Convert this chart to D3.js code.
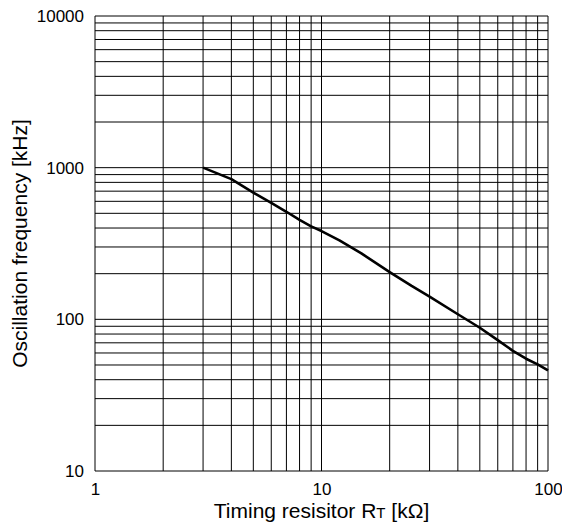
<!DOCTYPE html>
<html>
<head>
<meta charset="utf-8">
<script src="https://cdn.jsdelivr.net/npm/d3@7"></script>
<style>
  html, body { margin: 0; padding: 0; background: #fff; }
  svg { display: block; font-family: "Liberation Sans", Arial, sans-serif; }
</style>
</head>
<body>
<svg id="chart" width="562" height="528"></svg>
<script>
// Timing resistor RT [kΩ] vs oscillation frequency [kHz]
const resistance = [3, 4, 5, 6, 7, 8, 9, 10, 12, 15, 20, 25, 30, 40, 50, 60, 70, 80, 90, 100];
const frequency  = [1000, 840, 685, 585, 512, 452, 410, 382, 332, 272, 205, 166, 141, 108, 88, 73, 62, 55, 50.5, 46];

const xTickLabels = [1, 10, 100];
const yTickLabels = [10, 100, 1000, 10000];
const xGridValues = [1, 2, 3, 4, 5, 6, 7, 8, 9, 10, 20, 30, 40, 50, 60, 70, 80, 90, 100];
const yGridValues = [10, 20, 30, 40, 50, 60, 70, 80, 90, 100,
                     200, 300, 400, 500, 600, 700, 800, 900, 1000,
                     2000, 3000, 4000, 5000, 6000, 7000, 8000, 9000, 10000];

const margin = { left: 95, right: 14, top: 16, bottom: 57 };
const W = 562, H = 528;

const svg = d3.select("#chart");

const x = d3.scaleLog().domain([1, 100]).range([margin.left, W - margin.right]);
const y = d3.scaleLog().domain([10, 10000]).range([H - margin.bottom, margin.top]);

// grid
const grid = svg.append("g").attr("stroke", "#000").attr("stroke-width", 1);
grid.selectAll("line.v").data(xGridValues).join("line")
  .attr("class", "v")
  .attr("x1", d => x(d)).attr("x2", d => x(d))
  .attr("y1", y(10)).attr("y2", y(10000));
grid.selectAll("line.h").data(yGridValues).join("line")
  .attr("class", "h")
  .attr("x1", x(1)).attr("x2", x(100))
  .attr("y1", d => y(d)).attr("y2", d => y(d));

// axes (labels only; frame comes from the grid)
const xAxis = d3.axisBottom(x).tickValues(xTickLabels).tickFormat(d3.format("d")).tickSize(0).tickPadding(12);
const yAxis = d3.axisLeft(y).tickValues(yTickLabels).tickFormat(d3.format("d")).tickSize(0).tickPadding(11);

const gx = svg.append("g").attr("transform", `translate(0,${y(10)})`).call(xAxis);
const gy = svg.append("g").attr("transform", `translate(${x(1)},0)`).call(yAxis);
[gx, gy].forEach(g => {
  g.select(".domain").remove();
  g.selectAll("text").attr("fill", "#000").attr("font-size", 17)
    .attr("font-family", "'Liberation Sans', Arial, sans-serif");
});

// curve
const line = d3.line().x((d, i) => x(resistance[i])).y(d => y(d));
svg.append("path")
  .datum(frequency)
  .attr("fill", "none")
  .attr("stroke", "#000")
  .attr("stroke-width", 2.6)
  .attr("stroke-linejoin", "round")
  .attr("d", line);

// axis titles
const xt = svg.append("text")
  .attr("x", (x(1) + x(100)) / 2)
  .attr("y", 518)
  .attr("text-anchor", "middle")
  .attr("font-size", 21)
  .attr("fill", "#000");
xt.append("tspan").text("Timing resisitor R");
xt.append("tspan").attr("font-size", 15).text("T");
xt.append("tspan").text(" [kΩ]");

svg.append("text")
  .attr("transform", `translate(27,${(y(10) + y(10000)) / 2}) rotate(-90)`)
  .attr("text-anchor", "middle")
  .attr("font-size", 21)
  .attr("fill", "#000")
  .text("Oscillation frequency [kHz]");
</script>
</body>
</html>
